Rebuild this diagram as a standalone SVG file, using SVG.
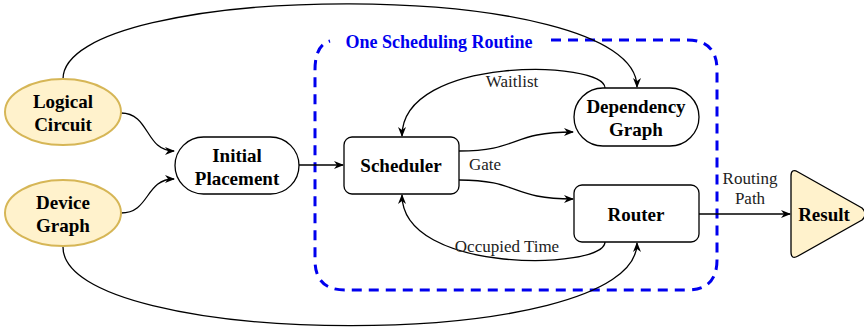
<svg xmlns="http://www.w3.org/2000/svg" width="864" height="334" viewBox="0 0 864 334">
<defs>
<marker id="arr" viewBox="0 0 10 10" refX="9" refY="5" markerWidth="10" markerHeight="10" markerUnits="userSpaceOnUse" orient="auto">
<path d="M0,1 L10,5 L0,9 L3,5 Z" fill="#000"/>
</marker>
<style>
.b{font-family:"Liberation Serif","Times New Roman",serif;font-weight:bold;font-size:19px;text-anchor:middle;fill:#000}
.l{font-family:"Liberation Serif","Times New Roman",serif;font-size:17px;text-anchor:middle;fill:#222}
.n{fill:#fff;stroke:#000;stroke-width:1.3}
.y{fill:#fff2cc;stroke:#d6b656;stroke-width:2}
.c{fill:none;stroke:#000;stroke-width:1.3;marker-end:url(#arr)}
.cn{fill:none;stroke:#000;stroke-width:1.3}
</style>
</defs>
<rect width="864" height="334" fill="#fff"/>
<g id="routine">
<path d="M551,40 L687,40 Q717,40 717,70 L717,260 Q717,290 687,290 L345,290 Q315,290 315,260 L315,70 Q315,45 330,41" fill="none" stroke="#0000ee" stroke-width="3" stroke-dasharray="10,7"/>
<text x="439" y="48" font-family="Liberation Serif, Times New Roman, serif" font-weight="bold" font-size="18" text-anchor="middle" fill="#0000ee">One Scheduling Routine</text>
</g>
<g id="connectors">
<path class="c" d="M63,79 C63,-20 637,-25 637,87"/>
<path class="c" d="M63,247 C63,350 637,355 637,243"/>
<path class="c" d="M121,113 C150,113 145,151 174,151"/>
<path class="c" d="M121,213 C150,213 145,179 174,179"/>
<path class="c" d="M299,165 L343,165"/>
<path class="c" d="M605,88 C605,60 402,55 402,136"/>
<path class="c" d="M605,242 C605,270 402,275 402,195"/>
<path class="c" d="M459,151 C520,151 510,132 573,132"/>
<path class="c" d="M459,180 C520,180 510,199 573,199"/>
<path class="c" d="M699,214 L790,214"/>
<text class="l" x="512" y="87">Waitlist</text>
<text class="l" x="485" y="170">Gate</text>
<text class="l" x="507" y="252">Occupied Time</text>
<text class="l" x="750" y="184">Routing</text>
<text class="l" x="750" y="204">Path</text>
</g>
<g id="logical">
<ellipse class="y" cx="63" cy="112" rx="58" ry="33"/>
<text class="b" x="63" y="108">Logical</text>
<text class="b" x="63" y="131">Circuit</text>
</g>
<g id="device">
<ellipse class="y" cx="63" cy="213" rx="58" ry="33"/>
<text class="b" x="63" y="209">Device</text>
<text class="b" x="63" y="232">Graph</text>
</g>
<g id="initial">
<rect class="n" x="175" y="137" width="124" height="57" rx="28.5"/>
<text class="b" x="237" y="162">Initial</text>
<text class="b" x="237" y="185">Placement</text>
</g>
<g id="scheduler">
<rect class="n" x="344" y="137" width="115" height="57" rx="8"/>
<text class="b" x="401" y="172">Scheduler</text>
</g>
<g id="dependency">
<rect class="n" x="574" y="88" width="125" height="58" rx="29"/>
<text class="b" x="636" y="113">Dependency</text>
<text class="b" x="636" y="136">Graph</text>
</g>
<g id="router">
<rect class="n" x="574" y="185" width="125" height="57" rx="8"/>
<text class="b" x="636" y="221">Router</text>
</g>
<g id="result">
<path d="M791,176 Q791,168 798,172 L862,208 Q868,214 862,220 L798,256 Q791,260 791,252 Z" fill="#fff2cc" stroke="#000" stroke-width="1.3"/>
<text class="b" x="824" y="221">Result</text>
</g>
</svg>
